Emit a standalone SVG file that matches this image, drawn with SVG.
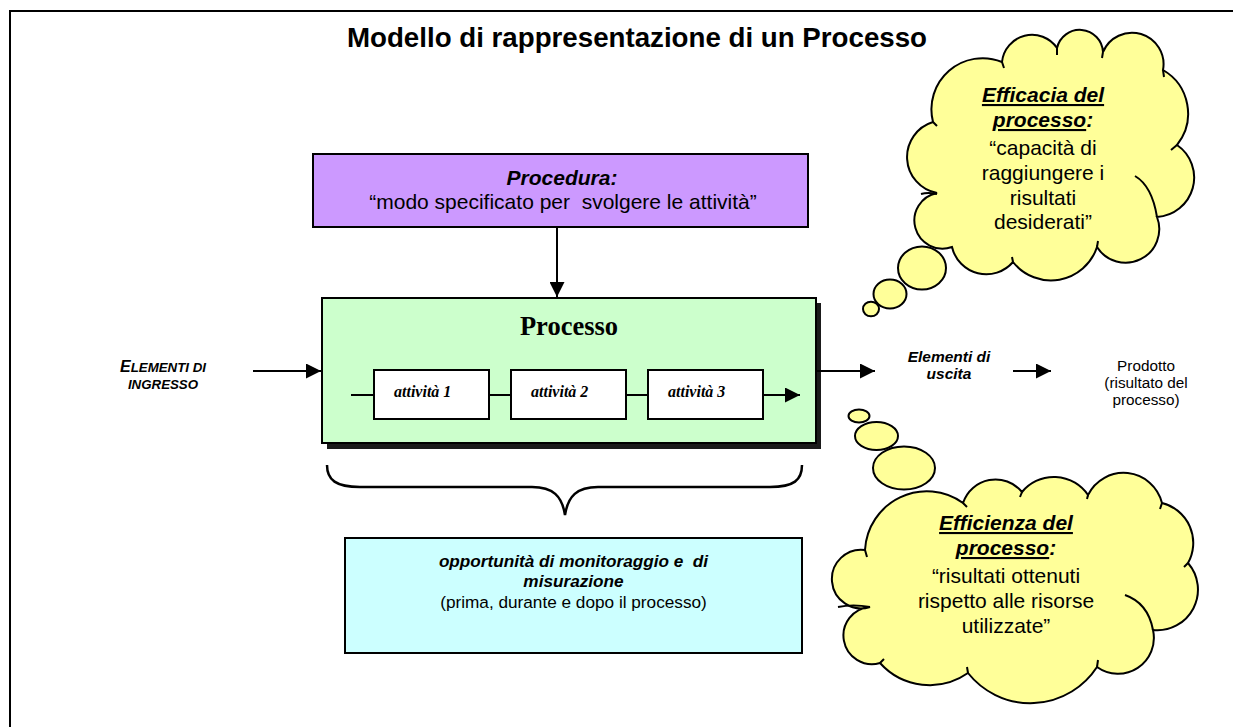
<svg xmlns="http://www.w3.org/2000/svg" width="1233" height="727" viewBox="0 0 1233 727">
<style>
.sans{font-family:"Liberation Sans",Arial,sans-serif;fill:#000}
.serif{font-family:"Liberation Serif","Times New Roman",serif;fill:#000}
.bi{font-weight:bold;font-style:italic}
.box{stroke:#000;stroke-width:2}
.ln{stroke:#000;stroke-width:2;fill:none}
.cloud{fill:#FFFF99;stroke:#000;stroke-width:2}
.tick{fill:none;stroke:#000;stroke-width:2}
.pre{white-space:pre}
.u{text-decoration:underline}
</style>
<defs>
<marker id="ah" markerWidth="15" markerHeight="15" refX="15" refY="7.5" orient="auto" markerUnits="userSpaceOnUse" viewBox="0 0 15 15">
<path d="M0,0 L15,7.5 L0,15 Z" fill="#000"/>
</marker>
</defs>
<rect width="1233" height="727" fill="#fff"/>
<rect x="10" y="11" width="1240" height="740" fill="none" stroke="#000" stroke-width="2"/>

<text class="sans" x="637" y="47" font-size="27.7" font-weight="bold" text-anchor="middle">Modello di rappresentazione di un Processo</text>

<g id="procedura">
<rect class="box" x="313" y="154" width="495" height="73" fill="#CC99FF"/>
<text class="sans bi" x="562" y="185" font-size="21" text-anchor="middle">Procedura:</text>
<text class="sans pre" x="563" y="209" font-size="21" text-anchor="middle">“modo specificato per  svolgere le attività”</text>
</g>

<g id="processo">
<rect x="327" y="303" width="494" height="146" fill="#1a1a1a"/>
<rect class="box" x="322" y="298" width="494" height="145" fill="#CCFFCC"/>
<text class="serif" x="569" y="335" font-size="26.5" font-weight="bold" text-anchor="middle">Processo</text>
</g>

<g id="attivita1">
<rect class="box" x="374" y="370" width="115" height="49" fill="#fff"/>
<text class="serif bi" x="394" y="397" font-size="16">attività 1</text>
</g>
<g id="attivita2">
<rect class="box" x="511" y="370" width="115" height="49" fill="#fff"/>
<text class="serif bi" x="531" y="397" font-size="16">attività 2</text>
</g>
<g id="attivita3">
<rect class="box" x="648" y="370" width="115" height="49" fill="#fff"/>
<text class="serif bi" x="668" y="397" font-size="16">attività 3</text>
</g>

<g id="ingresso">
<text class="sans bi" x="163" y="372" text-anchor="middle"><tspan font-size="16">E</tspan><tspan font-size="13.3">LEMENTI DI</tspan></text>
<text class="sans bi" x="163" y="389" font-size="13.3" text-anchor="middle">INGRESSO</text>
</g>

<g id="uscita">
<text class="sans bi" x="949" y="362" font-size="15.5" text-anchor="middle">Elementi di</text>
<text class="sans bi" x="949" y="379" font-size="15.5" text-anchor="middle">uscita</text>
</g>

<g id="prodotto">
<text class="sans" x="1146" y="371" font-size="15.3" text-anchor="middle">Prodotto</text>
<text class="sans" x="1146" y="388" font-size="15.3" text-anchor="middle">(risultato del</text>
<text class="sans" x="1146" y="405" font-size="15.3" text-anchor="middle">processo)</text>
</g>

<g id="monitoraggio">
<rect class="box" x="345" y="538" width="457" height="115" fill="#CCFFFF"/>
<text class="sans bi pre" x="573.5" y="567" font-size="17.2" text-anchor="middle">opportunità di monitoraggio e  di</text>
<text class="sans bi" x="573.5" y="587" font-size="17.2" text-anchor="middle">misurazione</text>
<text class="sans" x="573.5" y="608" font-size="17.2" text-anchor="middle">(prima, durante e dopo il processo)</text>
</g>

<g id="graffa">
<path d="M327,465 C327,480 336,487 360,487 L532,487 C553,487 562,496 565,515 C568,496 577,487 598,487 L770,487 C794,487 802,480 802,465" stroke="#000" stroke-width="2.5" fill="none"/>
</g>

<g id="efficacia">
<path class="cloud" d="M1002,62 A30.2,30.2 0 0 1 1057,48 A23.3,23.3 0 0 1 1103,52 A31.5,31.5 0 0 1 1163,70 A50.3,50.3 0 0 1 1177,145 A39.5,39.5 0 0 1 1157,217 A33.7,33.7 0 0 1 1097,247 A48.4,48.4 0 0 1 1013,262 A35.2,35.2 0 0 1 952,247 A28.1,28.1 0 1 1 937,193 A36.6,36.6 0 0 1 933,122 A51.2,51.2 0 0 1 1002,62 Z"/>
<path class="tick" d="M1135,176 Q1152,186 1157,217 M937,194 Q928,192 921,194 M1002,62 L1004,68 M1057,48 L1057,55 M1103,52 L1102,58 M1163,70 L1164,77 M1177,145 L1171,150 M1097,247 L1098,241 M1013,262 L1012,257 M933,122 L937,126"/>
<ellipse class="cloud" cx="922" cy="268" rx="24" ry="21.5"/>
<ellipse class="cloud" cx="890" cy="294" rx="16.5" ry="14.5"/>
<ellipse class="cloud" cx="871" cy="309" rx="8" ry="7.3"/>
<text class="sans bi" x="1043" y="102" font-size="21" text-anchor="middle"><tspan class="u">Efficacia del</tspan></text>
<text class="sans bi" x="1043" y="127" font-size="21" text-anchor="middle"><tspan class="u">processo</tspan>:</text>
<text class="sans" x="1043" y="155" font-size="21" text-anchor="middle">“capacità di</text>
<text class="sans" x="1043" y="180" font-size="21" text-anchor="middle">raggiungere i</text>
<text class="sans" x="1043" y="205" font-size="21" text-anchor="middle">risultati</text>
<text class="sans" x="1043" y="229" font-size="21" text-anchor="middle">desiderati”</text>
</g>

<g id="efficienza">
<ellipse class="cloud" cx="859" cy="416" rx="10.5" ry="6.5"/>
<ellipse class="cloud" cx="876.5" cy="436" rx="21.5" ry="14"/>
<ellipse class="cloud" cx="904" cy="468" rx="31" ry="21.5"/>
<path class="cloud" d="M963,503 A34.2,34.2 0 0 1 1022,492 A41.2,41.2 0 0 1 1088,495 A39.6,39.6 0 0 1 1162,503 A41.1,41.1 0 0 1 1188,563 A40.6,40.6 0 0 1 1153,630 A35.9,35.9 0 0 1 1097,667 A79.5,79.5 0 0 1 968,673 A66.8,66.8 0 0 1 880,663 A28.6,28.6 0 1 1 870,607 A29.3,29.3 0 1 1 865,550 A61.9,61.9 0 0 1 963,503 Z"/>
<path class="tick" d="M1125,595 Q1148,603 1153,630 M870,607 Q853,604 838,607 M963,503 L967,507 M1022,492 L1020,497 M1088,495 L1087,499 M1162,503 L1160,509 M1188,563 L1184,567 M1097,667 L1098,660 M968,673 L967,667 M880,663 L884,659 M865,550 L867,557"/>
<text class="sans bi" x="1006" y="530" font-size="21" text-anchor="middle"><tspan class="u">Efficienza del</tspan></text>
<text class="sans bi" x="1006" y="555" font-size="21" text-anchor="middle"><tspan class="u">processo</tspan>:</text>
<text class="sans" x="1006" y="583" font-size="21" text-anchor="middle">“risultati ottenuti</text>
<text class="sans" x="1006" y="608" font-size="21" text-anchor="middle">rispetto alle risorse</text>
<text class="sans" x="1006" y="633" font-size="21" text-anchor="middle">utilizzate”</text>
</g>

<g id="connectors">
<line class="ln" x1="557" y1="227" x2="557" y2="297" marker-end="url(#ah)"/>
<line class="ln" x1="253" y1="371" x2="321" y2="371" marker-end="url(#ah)"/>
<line class="ln" x1="817" y1="371" x2="875" y2="371" marker-end="url(#ah)"/>
<line class="ln" x1="1013" y1="371" x2="1051" y2="371" marker-end="url(#ah)"/>
<line class="ln" x1="351" y1="395" x2="374" y2="395"/>
<line class="ln" x1="489" y1="395" x2="511" y2="395"/>
<line class="ln" x1="626" y1="395" x2="648" y2="395"/>
<line class="ln" x1="763" y1="395" x2="800" y2="395" marker-end="url(#ah)"/>
</g>
</svg>
